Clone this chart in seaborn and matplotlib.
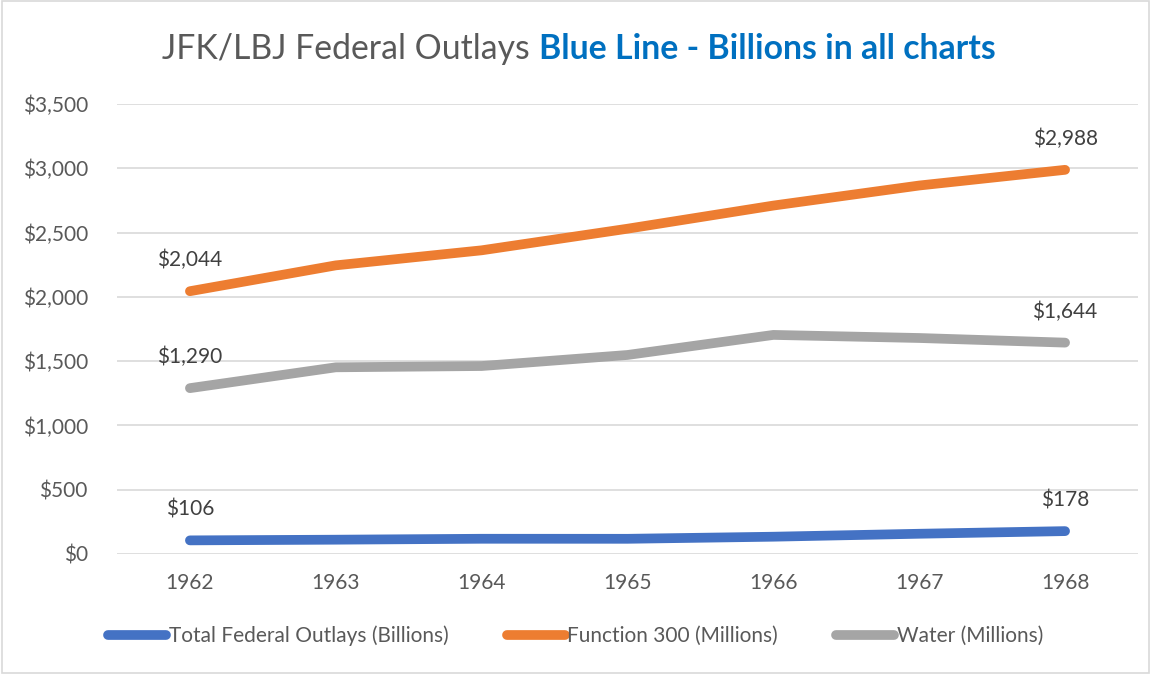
import matplotlib
matplotlib.use("Agg")
import matplotlib.pyplot as plt
import seaborn as sns
import pandas as pd
from matplotlib.patches import Rectangle
from matplotlib.ticker import FuncFormatter
from matplotlib.lines import Line2D

years = ["1962", "1963", "1964", "1965", "1966", "1967", "1968"]
total_outlays = [106, 111.3, 118.5, 118.2, 134.5, 157.5, 178]
function_300 = [2044, 2245, 2362, 2530, 2710, 2866, 2988]
water = [1290, 1452, 1462, 1548, 1704, 1680, 1644]
series_names = ["Total Federal Outlays (Billions)", "Function 300 (Millions)", "Water (Millions)"]
series_values = [total_outlays, function_300, water]
colors = ["#4472C4", "#ED7D31", "#A5A5A5"]
title_plain = "JFK/LBJ Federal Outlays "
title_blue = "Blue Line - Billions in all charts"
yticks = [0, 500, 1000, 1500, 2000, 2500, 3000, 3500]

rows = []
for name, vals in zip(series_names, series_values):
    for i, (yr, v) in enumerate(zip(years, vals)):
        rows.append({"idx": i, "year": yr, "value": v, "series": name})
df = pd.DataFrame(rows)

sns.set_theme(style="white")
FONT = "Lato"
plt.rcParams["font.family"] = [FONT, "DejaVu Sans"]
TXT = "#595959"
FS = 15

fig = plt.figure(figsize=(11.51, 6.74), dpi=100)
ax = fig.add_axes([117/1151, 1-554/674, (1138-117)/1151, 450/674])

sns.lineplot(data=df, x="idx", y="value", hue="series", hue_order=series_names,
             palette=colors, linewidth=7, ax=ax, legend=False, sort=False, zorder=3)
for line in ax.get_lines():
    line.set_solid_capstyle("round")

ax.set_xlim(-0.5, len(years) - 0.5)
ax.set_ylim(0, 3500)
ax.set_yticks(yticks)
ax.yaxis.set_major_formatter(FuncFormatter(lambda v, p: "${:,.0f}".format(v)))
ax.set_xticks(range(len(years)))
ax.set_xticklabels(years)
ax.set_xlabel("")
ax.set_ylabel("")
ax.grid(axis="y", color="#D9D9D9", linewidth=1.2, zorder=0)
ax.grid(axis="x", visible=False)
for s in ax.spines.values():
    s.set_visible(False)
ax.tick_params(axis="y", length=0, pad=21, labelsize=FS, labelcolor=TXT)
ax.tick_params(axis="x", length=0, pad=14, labelsize=FS, labelcolor=TXT)

# data labels at first and last points
for vals in series_values:
    for i in (0, len(years) - 1):
        ax.annotate("${:,.0f}".format(vals[i]), (i, vals[i]), xytext=(0, 15),
                    textcoords="offset points", ha="center", va="bottom",
                    fontsize=FS, color="#404040")

# title in two colours
t1 = fig.text(0.5, 1-49/674, title_plain, fontsize=24.3, color=TXT, va="center", ha="left")
t2 = fig.text(0.5, 1-49/674, title_blue, fontsize=24.3, color="#0070C0",
              fontweight="bold", va="center", ha="left")
fig.canvas.draw()
r = fig.canvas.get_renderer()
w1 = t1.get_window_extent(r).width
w2 = t2.get_window_extent(r).width
W = fig.bbox.width
x0 = (163 + 995) / 2 - (w1 + w2) / 2
t1.set_x(x0 / W)
t2.set_x((x0 + w1) / W)

# legend
handles = [Line2D([0], [0], color=c, linewidth=7, solid_capstyle="round") for c in colors]
fig.legend(handles, series_names, loc="center", bbox_to_anchor=(0.5, 1-636/674), ncol=3,
           frameon=False, fontsize=FS, labelcolor=TXT, handlelength=2.8,
           handletextpad=0.1, columnspacing=2.8)

# chart border
fig.patches.append(Rectangle((0.002, 0.002), 0.996, 0.996, transform=fig.transFigure,
                             fill=False, edgecolor="#D9D9D9", linewidth=1.2))

fig.savefig("out.png", dpi=100)
